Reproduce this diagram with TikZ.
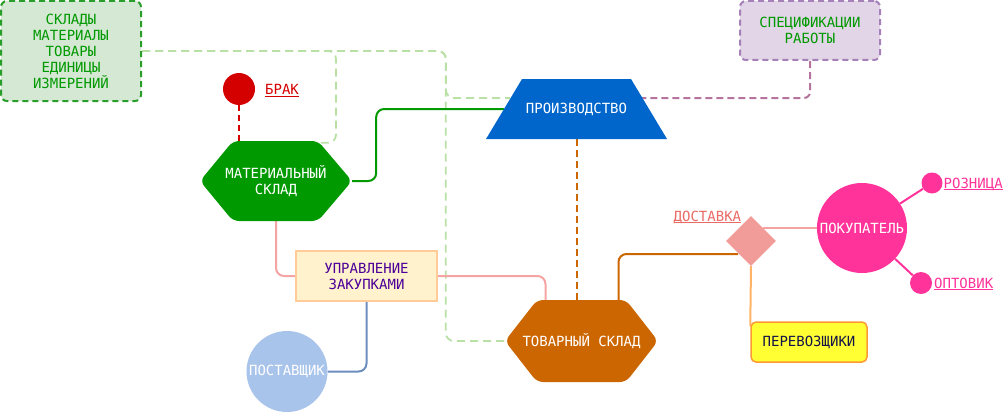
\documentclass[tikz,border=0pt]{standalone}
\usepackage{fontspec}
\newfontfamily\dvm{DejaVu Sans Mono}
\usetikzlibrary{shapes.geometric}
\pgfdeclarelayer{background}
\pgfsetlayers{background,main}
\definecolor{sklfill}{HTML}{D5E8D4}
\definecolor{sklline}{HTML}{2A9E2A}
\definecolor{txtgreen}{HTML}{009900}
\definecolor{lgdash}{HTML}{B9E0A5}
\definecolor{brakc}{HTML}{D40000}
\definecolor{matfill}{HTML}{009900}
\definecolor{prodfill}{HTML}{0066CC}
\definecolor{specfill}{HTML}{E1D5E7}
\definecolor{specline}{HTML}{A680B8}
\definecolor{purpdash}{HTML}{B5739D}
\definecolor{orangec}{HTML}{CC6600}
\definecolor{uprfill}{HTML}{FFF2CC}
\definecolor{uprline}{HTML}{FFCC99}
\definecolor{uprtext}{HTML}{4C0099}
\definecolor{pinkline}{HTML}{F5A3A3}
\definecolor{postfill}{HTML}{A9C4EB}
\definecolor{blueline}{HTML}{6C8EBF}
\definecolor{dostfill}{HTML}{F19C99}
\definecolor{dosttxt}{HTML}{EA6B66}
\definecolor{pokc}{HTML}{FF3399}
\definecolor{perfill}{HTML}{FFFF33}
\definecolor{perline}{HTML}{FF9933}
\definecolor{perconnc}{HTML}{FFB366}
\definecolor{pertext}{HTML}{14144A}
\newcommand\ulink[1]{\underline{\smash{#1}}}
\begin{document}
\begin{tikzpicture}[x=1pt,y=-1pt,
  txt/.style={font=\dvm\fontsize{14}{16}\selectfont, align=center, inner sep=0pt},
  lgconn/.style={draw=lgdash, line width=1.8pt, dash pattern=on 8pt off 5pt, rounded corners=8pt},
  greenconn/.style={draw=matfill, line width=2pt, rounded corners=8pt},
  reddash/.style={draw=brakc, line width=2pt, dash pattern=on 6pt off 4pt},
  purpconn/.style={draw=purpdash, line width=2pt, dash pattern=on 7pt off 4pt, rounded corners=6pt},
  orangedash/.style={draw=orangec, line width=2pt, dash pattern=on 7pt off 4pt},
  pinkconn/.style={draw=pinkline, line width=2pt, rounded corners=8pt},
  blueconn/.style={draw=blueline, line width=2pt, rounded corners=8pt},
  darkorconn/.style={draw=orangec, line width=2pt, rounded corners=8pt},
  perconn/.style={draw=perconnc, line width=2pt},
  pokconn/.style={draw=pokc, line width=2pt},
  linklabel/.style={txt, anchor=base west},
]
\useasboundingbox (0,0) rectangle (1003,412);

% ---- shape fills (nodes on top carry names and texts)
\fill[matfill, rounded corners=6pt] (200,181) -- (233,141) -- (318,141) -- (352,181) -- (318,221) -- (233,221) -- cycle;
\fill[prodfill] (486,139) -- (522,79) -- (631,79) -- (667,139) -- cycle;
\fill[orangec, rounded corners=6pt] (505,341) -- (537,300) -- (626,300) -- (658,341) -- (626,382) -- (537,382) -- cycle;

% ---- nodes
\node[txt, text=txtgreen, fill=sklfill, draw=sklline, line width=2pt, dash pattern=on 6pt off 4pt, rounded corners=6pt, minimum width=140, minimum height=100] (skl) at (71,51) {СКЛАДЫ\\МАТЕРИАЛЫ\\ТОВАРЫ\\ЕДИНИЦЫ\\ИЗМЕРЕНИЙ};
\node[txt, circle, fill=brakc, minimum size=32] (brak) at (239,89) {};
\node[linklabel, text=brakc] (braklab) at (265,94.5) {\ulink{БРАК}};
\node[txt, text=white, minimum width=152, minimum height=80] (mat) at (276,181) {МАТЕРИАЛЬНЫЙ\\СКЛАД};
\node[txt, text=white, minimum width=181, minimum height=60] (prod) at (576.5,109) {ПРОИЗВОДСТВО};
\coordinate (prodL) at (510,98);
\coordinate (prodG) at (504,109);
\coordinate (prodR) at (642,98);
\node[txt, text=txtgreen, fill=specfill, draw=specline, line width=2pt, dash pattern=on 6pt off 4pt, rounded corners=6pt, minimum width=140, minimum height=59] (spec) at (810,30.5) {СПЕЦИФИКАЦИИ\\РАБОТЫ};
\node[txt, text=white, minimum width=153, minimum height=82] (tov) at (581.5,341) {ТОВАРНЫЙ СКЛАД};
\node[txt, text=uprtext, fill=uprfill, draw=uprline, line width=1.5pt, minimum width=141, minimum height=50] (upr) at (366.5,276) {УПРАВЛЕНИЕ\\ЗАКУПКАМИ};
\node[txt, circle, text=white, fill=postfill, minimum size=81] (post) at (287,371.5) {ПОСТАВЩИК};
\node[txt, diamond, fill=dostfill, minimum width=50, minimum height=50] (dost) at (751,241) {};
\node[linklabel, text=dosttxt] (dostlab) at (673.5,221) {\ulink{ДОСТАВКА}};
\node[txt, circle, text=white, fill=pokc, minimum size=90] (pok) at (862,228) {ПОКУПАТЕЛЬ};
\node[txt, circle, fill=pokc, minimum size=21] (roz) at (932,183) {};
\node[txt, circle, fill=pokc, minimum size=22] (opt) at (921,283) {};
\node[linklabel, text=pokc] (rozlab) at (943.5,188) {\ulink{РОЗНИЦА}};
\node[linklabel, text=pokc] (optlab) at (934,288) {\ulink{ОПТОВИК}};
\node[txt, text=pertext, fill=perfill, draw=perline, line width=1.5pt, rounded corners=5pt, minimum width=116, minimum height=40] (perev) at (809,342) {ПЕРЕВОЗЩИКИ};

% ---- connectors (behind the shapes)
\begin{pgfonlayer}{background}
\draw[lgconn] (skl.east) -| ([xshift=60pt,yshift=-2pt]mat.north) -- ([xshift=42pt,yshift=-2pt]mat.north);
\draw[lgconn] (skl.east) -| ([xshift=-64pt]prodL) -- (prodL);
\draw[lgconn] (skl.east) -| ([xshift=-59pt]tov.west) -- (tov.west);
\draw[greenconn] (mat.east) -- ++(24,0) |- (prodG);
\draw[reddash] (brak.south) -- (brak |- mat.north);
\draw[purpconn] (spec.south) |- (prodR);
\draw[orangedash] (prod.south) -- (prod.south |- tov.north);
\draw[pinkconn] (mat.south) |- (upr.west);
\draw[pinkconn] (upr.east) -| ([xshift=-36pt]tov.north);
\draw[blueconn] (upr.south) |- (post.east);
\draw[darkorconn] ([xshift=37pt]tov.north) |- ([xshift=-13pt,yshift=-13pt]dost.center);
\draw[pinkconn] ([xshift=12pt,yshift=13pt]dost.center) -- (pok.west);
\draw[perconn] (dost.south) -- ([yshift=-5pt]perev.north west);
\draw[pokconn] (pok) -- (roz);
\draw[pokconn] (pok) -- (opt);
\end{pgfonlayer}
\end{tikzpicture}
\end{document}
